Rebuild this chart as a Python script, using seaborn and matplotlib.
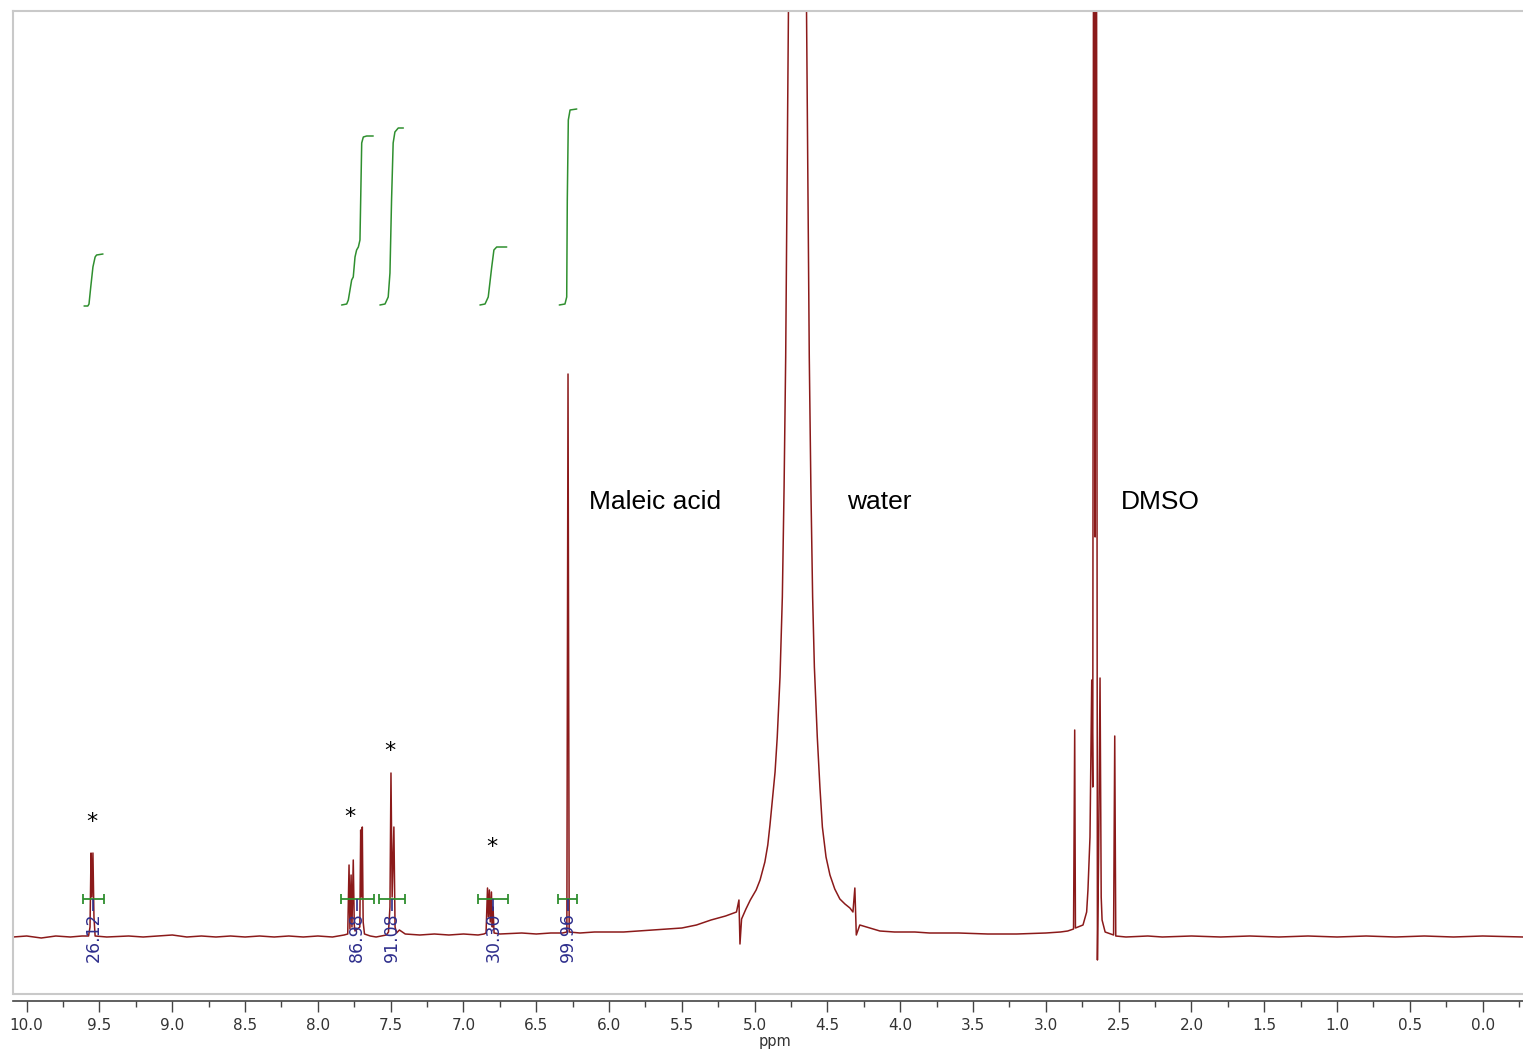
import numpy as np
import pandas as pd
import matplotlib
matplotlib.use("Agg")
import matplotlib.pyplot as plt
import seaborn as sns
from matplotlib.ticker import MultipleLocator, FormatStrFormatter

# =======================================================
# Spectrum trace (ppm, height above baseline in px units)
# =======================================================
# 10.1 - 7.8 ppm, peak at 9.55
reg1_ppm = [10.094, 10.0, 9.9, 9.8, 9.7, 9.62, 9.575, 9.565, 9.558, 9.552, 9.545, 9.538, 9.53,
            9.45, 9.3, 9.2, 9.1, 9.0, 8.9, 8.8, 8.7, 8.6, 8.5, 8.4, 8.3, 8.2, 8.1, 8.0, 7.9, 7.82]
reg1_int = [0, 1, -1, 1, 0, 1, 1, 10, 84, 40, 84, 20, 1,
            0, 1, 0, 1, 2, 0, 1, 0, 1, 0, 1, 0, 1, 0, 1, 0, 2]

# aromatic multiplets 7.8 - 6.3 ppm
reg2_ppm = [7.795, 7.786, 7.780, 7.772, 7.766, 7.757, 7.750, 7.745, 7.712, 7.706, 7.700, 7.695,
            7.689, 7.68, 7.64, 7.60, 7.53, 7.515, 7.505, 7.498, 7.490, 7.478, 7.470, 7.46, 7.44,
            7.42, 7.40, 7.3, 7.2, 7.1, 7.0, 6.9, 6.86, 6.845, 6.835, 6.829, 6.822, 6.816, 6.808,
            6.802, 6.797, 6.79, 6.75, 6.6, 6.5, 6.4, 6.32]
reg2_int = [3, 72, 8, 62, 10, 77, 12, 6, 10, 107, 40, 110,
            15, 3, 1, 0, 2, 5, 30, 164, 40, 110, 10, 4, 7,
            5, 3, 2, 3, 2, 3, 2, 3, 4, 49, 20, 47, 15, 45,
            10, 30, 4, 3, 4, 3, 4, 4]

# maleic acid singlet and the water hump
reg3_ppm = [6.290, 6.282, 6.274, 6.2, 6.1, 6.0, 5.9, 5.8, 5.7, 5.6, 5.5, 5.4, 5.3, 5.2, 5.125,
            5.108, 5.101, 5.09, 5.06, 5.03, 4.99, 4.963, 4.93, 4.91, 4.895, 4.88, 4.86, 4.845,
            4.826, 4.81, 4.798, 4.787, 4.778, 4.764,
            4.706, 4.648, 4.634, 4.625, 4.614, 4.602, 4.59, 4.57, 4.552, 4.535, 4.51, 4.483,
            4.45, 4.415, 4.38, 4.346, 4.325, 4.312, 4.302, 4.278, 4.21, 4.14, 4.04]
reg3_int = [5, 563, 5, 4, 5, 5, 5, 6, 7, 8, 9, 12, 17, 21, 25,
            37, -7, 18, 28, 37, 47, 57, 75, 92, 112, 135, 165, 200,
            260, 340, 450, 580, 750, 1000,
            2500, 1000, 750, 580, 450, 340, 270, 200, 150, 110, 80, 62,
            48, 38, 33, 29, 25, 49, 2, 12, 9, 6, 5]

# DMSO multiplet and the rest
reg4_ppm = [3.9, 3.8, 3.6, 3.4, 3.2, 3.0, 2.9, 2.85, 2.81, 2.802, 2.797, 2.78, 2.745, 2.72,
            2.711, 2.697, 2.685, 2.678, 2.670, 2.662, 2.655, 2.646, 2.638, 2.628, 2.620, 2.614,
            2.593, 2.535, 2.527, 2.520, 2.45, 2.3, 2.2, 2.0, 1.8, 1.6, 1.4, 1.2, 1.0, 0.8, 0.6,
            0.4, 0.2, 0.0, -0.277]
reg4_int = [5, 4, 4, 3, 3, 4, 5, 6, 8, 207, 9, 10, 12, 25,
            47, 100, 257, 150, 1500, 400, 1500, -23, 80, 259, 40, 17,
            5, 2, 201, 1, 0, 1, 0, 1, 0, 1, 0, 1, 0, 1, 0,
            1, 0, 1, 0]

# integral curves (green)
int1_ppm = [9.606, 9.580, 9.572, 9.560, 9.545, 9.530, 9.520, 9.476]
int1_val = [631, 631, 633, 650, 670, 680, 682, 683]
int2_ppm = [7.837, 7.802, 7.791, 7.768, 7.757, 7.745, 7.734, 7.722, 7.711, 7.699, 7.688, 7.665, 7.620]
int2_val = [632, 633, 637, 657, 660, 680, 687, 690, 697, 794, 800, 801, 801]
int3_ppm = [7.574, 7.539, 7.517, 7.505, 7.494, 7.483, 7.471, 7.448, 7.413]
int3_val = [632, 633, 640, 664, 737, 794, 805, 809, 809]
int4_ppm = [6.887, 6.852, 6.830, 6.806, 6.791, 6.772, 6.703]
int4_val = [632, 633, 640, 670, 687, 690, 690]
int5_ppm = [6.342, 6.303, 6.291, 6.287, 6.280, 6.268, 6.222]
int5_val = [632, 633, 640, 737, 817, 827, 828]

# integration ranges and values
range_start = [9.613, 7.844, 7.579, 6.898, 6.349]
range_end = [9.471, 7.614, 7.402, 6.692, 6.219]
range_labels = ["26.12", "86.98", "91.08", "30.30", "99.96"]

# starred peaks
star_ppm = [9.551, 7.780, 7.505, 6.808]
star_int = [115, 120, 186, 90]

# peak assignments
note_text = ["Maleic acid", "water", "DMSO"]
note_ppm = [6.137, 4.366, 2.484]
note_int = [435, 435, 435]

spec = pd.DataFrame({
    "ppm": reg1_ppm + reg2_ppm + reg3_ppm + reg4_ppm,
    "intensity": reg1_int + reg2_int + reg3_int + reg4_int,
})

# =======================================================
# Figure
# =======================================================
sns.set_style("white")
plt.rcParams["font.family"] = ["DejaVu Sans"]

W, H = 1523, 1057
fig = plt.figure(figsize=(W / 100, H / 100), dpi=100)
ax = fig.add_axes([13 / W, (H - 994) / H, (W - 13) / W, (994 - 11) / H])

red = "#8b1a1a"
green = "#2f8f2f"
navy = "#2e2e8c"
box_grey = "#c9c9c9"

sns.lineplot(data=spec, x="ppm", y="intensity", sort=False, estimator=None,
             color=red, linewidth=1.1, ax=ax)

for xs, ys in [(int1_ppm, int1_val), (int2_ppm, int2_val), (int3_ppm, int3_val),
               (int4_ppm, int4_val), (int5_ppm, int5_val)]:
    sns.lineplot(x=xs, y=ys, sort=False, estimator=None, color=green, linewidth=1.1, ax=ax)

# integration bars + values
bar_h = 38
for a, b, lab in zip(range_start, range_end, range_labels):
    ax.hlines(bar_h, a, b, color=green, linewidth=1.3)
    ax.vlines([a, b], bar_h - 5, bar_h + 5, color=green, linewidth=1.3)
    mid = (a + b) / 2
    ax.vlines(mid, bar_h - 12, bar_h, color=navy, linewidth=1.2)
    ax.text(mid, 0, lab, rotation=90, ha="center", va="center", color=navy, fontsize=12.5)

for px, py in zip(star_ppm, star_int):
    ax.text(px, py, "*", ha="center", va="center", fontsize=16, color="black")

for t, px, py in zip(note_text, note_ppm, note_int):
    ax.text(px, py, t, ha="left", va="center", fontsize=19, family="Liberation Sans", color="black")

ax.set_xlim(10.094, -0.277)
ax.set_ylim(-57, 926)

# frame: light grey box, dark x axis just below it
for s in ["left", "top"]:
    ax.spines[s].set_color(box_grey)
    ax.spines[s].set_linewidth(1.5)
ax.spines["right"].set_visible(False)
ax.spines["bottom"].set_position(("outward", 5.0))
ax.spines["bottom"].set_color("#444444")
ax.spines["bottom"].set_linewidth(1.2)
ax.plot([0, 1], [0, 0], transform=ax.transAxes, color=box_grey, linewidth=1.5, clip_on=False)

ax.xaxis.set_major_locator(MultipleLocator(0.5))
ax.xaxis.set_minor_locator(MultipleLocator(0.25))
ax.xaxis.set_major_formatter(FormatStrFormatter("%.1f"))
ax.tick_params(axis="x", which="major", direction="out", length=8, width=1, color="#444444",
               labelsize=11, labelcolor="#333333", pad=4, bottom=True)
ax.tick_params(axis="x", which="minor", direction="out", length=4, width=1, color="#444444", bottom=True)
ax.set_yticks([])
ax.set_xlabel("ppm", fontsize=10.5, color="#333333")
ax.xaxis.set_label_coords((775 - 13) / (W - 13), -0.041)
ax.set_ylabel("")

fig.savefig("out.png", dpi=100)
